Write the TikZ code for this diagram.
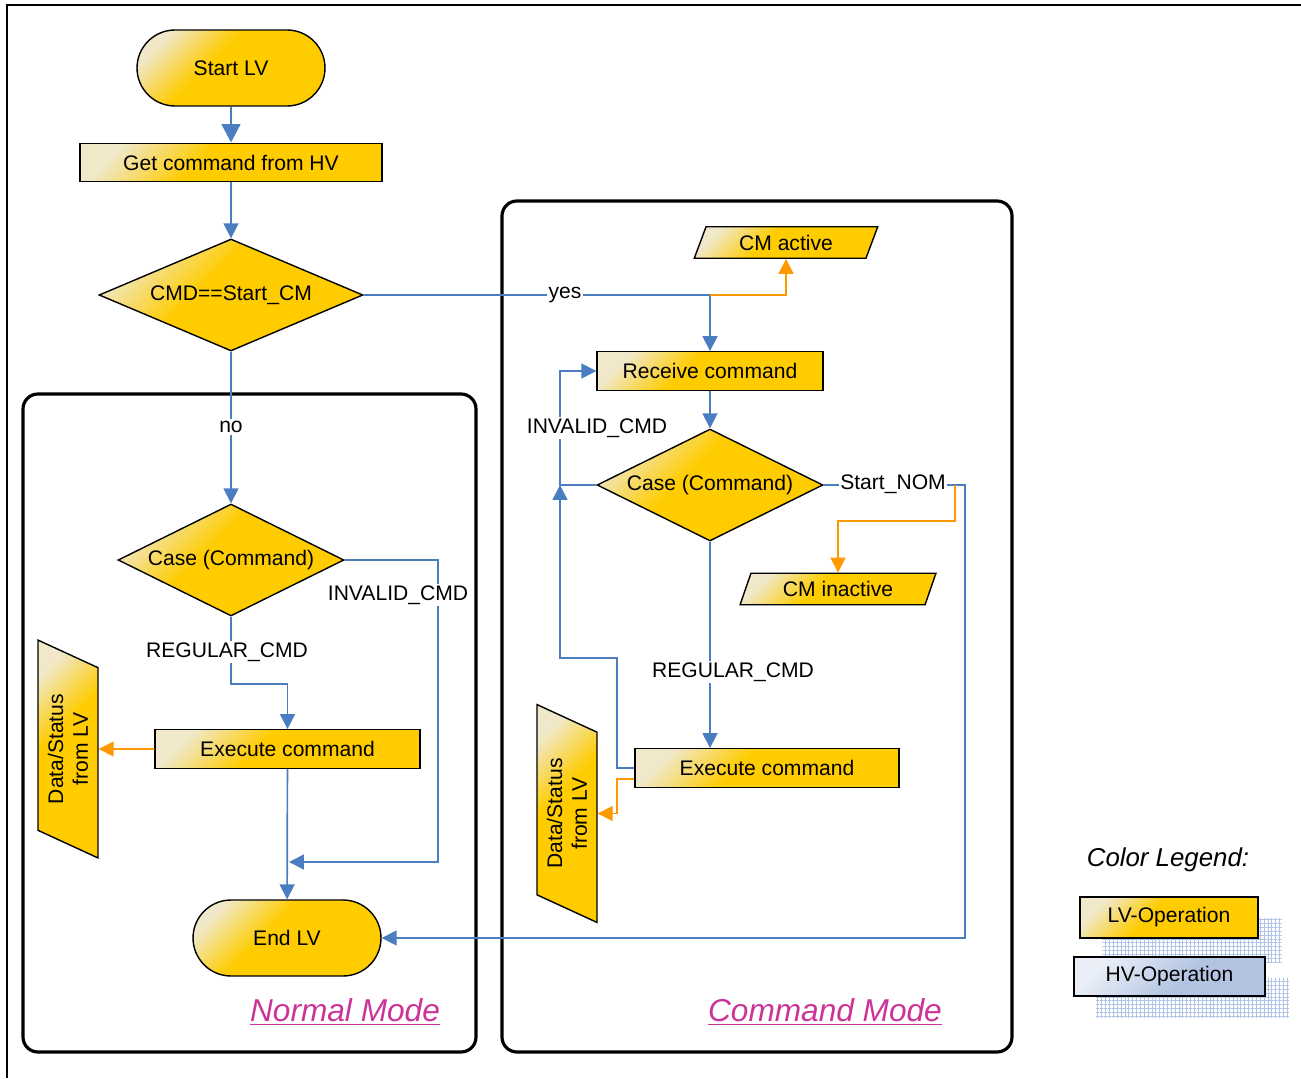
\documentclass[tikz,border=0pt]{standalone}
\usepackage{fontspec}
\setmainfont{Liberation Sans}
\usepackage{tikz}
\usetikzlibrary{arrows.meta}
\usetikzlibrary{positioning}
\usetikzlibrary{shapes.geometric}
\usetikzlibrary{patterns.meta}
\definecolor{gold}{RGB}{255,204,0}
\definecolor{goldlight}{RGB}{240,232,200}
\definecolor{hvlight}{RGB}{234,239,247}
\definecolor{hvdark}{RGB}{178,196,226}
\definecolor{flowblue}{RGB}{74,126,193}
\definecolor{floworange}{RGB}{255,153,0}
\definecolor{modemag}{RGB}{204,51,153}
\definecolor{gridblue}{RGB}{176,196,232}
\pgfdeclareverticalshading{lvshade}{100bp}{color(0bp)=(gold); color(25bp)=(gold); color(57bp)=(gold); color(76bp)=(goldlight); color(100bp)=(goldlight)}
\pgfdeclareverticalshading{hvshade}{100bp}{color(0bp)=(hvdark); color(25bp)=(hvdark); color(45bp)=(hvdark); color(75bp)=(hvlight); color(100bp)=(hvlight)}
\tikzset{
  lvfill/.style={shade,shading=lvshade,shading angle=45},
  hvfill/.style={shade,shading=hvshade,shading angle=45},
  terminal/.style={draw,line width=0.8pt,lvfill,rectangle,rounded corners=0.76cm,minimum width=3.76cm,minimum height=1.52cm},
  opbox/.style={draw,line width=0.8pt,lvfill,rectangle,minimum height=0.77cm},
  casebox/.style={draw,line width=0.8pt,lvfill,diamond,aspect=2,minimum width=4.52cm,minimum height=2.24cm,inner sep=0pt},
  iobox/.style={draw,line width=0.8pt,lvfill,trapezium,trapezium left angle=66,trapezium right angle=114,trapezium stretches=true,minimum height=0.63cm,inner sep=0pt},
  datbox/.style={iobox,rotate=90,align=center,minimum width=4.36cm,minimum height=1.2cm,trapezium left angle=65,trapezium right angle=115},
  flow/.style={draw=flowblue,line width=0.95pt,-{Triangle[length=8.5pt,width=8.5pt]}},
  oflow/.style={draw=floworange,line width=0.95pt,-{Triangle[length=8.5pt,width=8.5pt]}},
  flowlbl/.style={fill=white,inner sep=1pt},
  modebox/.style={draw,line width=1.8pt,rounded corners=0.3cm},
  modetitle/.style={text=modemag,font=\fontsize{18}{21}\selectfont\itshape},
  legbox/.style={draw,line width=1.1pt,rectangle,inner sep=0pt},
  legshadow/.style={pattern={Hatch[angle=0,distance=2.2pt,line width=0.35pt]},pattern color=gridblue}
}
\begin{document}
\begin{tikzpicture}[x=0.02cm,y=-0.02cm,every node/.style={font=\fontsize{12}{14}\selectfont}]
  \useasboundingbox (0,0) rectangle (1301,1078);
  \draw[line width=1.2pt] (7,1078) -- (7,5) -- (1301,5);

  \draw[modebox] (23,394) rectangle (476,1052);
  \draw[modebox] (502,201) rectangle (1012,1052);

  \node[terminal] (start) at (231,68) {Start LV};
  \node[opbox,minimum width=6.04cm] (getcmd) at (231,162.5) {Get command from HV};
  \node[casebox,aspect=2.36,minimum width=5.28cm] (cmdq) at (231,295) {CMD==Start\_CM};

  \node[casebox] (caseN) at (231,560) {Case (Command)};
  \node[opbox,minimum width=5.3cm] (execN) at (287.5,749) {Execute command};
  \node[datbox] (dsN) at (68,749) {Data/Status\\from LV};
  \node[terminal] (endN) at (287,938) {End LV};

  \node[iobox,minimum width=3.68cm] (cmact) at (786,242.5) {CM active};
  \node[opbox,minimum width=4.52cm] (recv) at (710,371) {Receive command};
  \node[casebox] (caseC) at (710,485) {Case (Command)};
  \node[iobox,minimum width=3.94cm] (cminact) at (838,589) {CM inactive};
  \node[opbox,minimum width=5.28cm] (execC) at (767,768) {Execute command};
  \node[datbox] (dsC) at (567,813.5) {Data/Status\\from LV};

  \coordinate (jy) at (710,295);
  \coordinate (jnom) at (955,485);
  \coordinate (jinv) at (560,485);
  \coordinate (jend) at (289,862);

  \draw[flow,line width=1.7pt,-{Triangle[length=10.5pt,width=10.5pt]}] (start) -- (getcmd);
  \draw[flow] (getcmd) -- (cmdq);
  \draw[flow] (cmdq) -- (caseN);
  \draw[flow] (caseN.south) -- ++(0,67) -| (execN.north);
  \draw[flow] (caseN.east) -- (438,560) |- (jend);
  \draw[flow] (execN) -- (endN);
  \draw[oflow] (execN) -- (dsN);

  \draw[flow] (cmdq.east) -| (recv.north);
  \draw[oflow] (jy) -| (cmact.south);
  \draw[flow] (recv) -- (caseC);
  \draw[flow] (caseC.west) -- (jinv) |- (recv.west);
  \draw[flow] (caseC.south) -- (caseC.south |- execC.north);
  \draw[flow] (caseC.east) -- (965,485) |- (endN.east);
  \draw[oflow] (jnom) -- ++(0,36) -| (cminact.north);
  \draw[flow] (execC.west) -- ++(-17,0) -- ++(0,-110) -| (jinv);
  \draw[oflow] ([yshift=-0.22cm]execC.west) -- ++(-17,0) |- (dsC);

  \node[flowlbl] (lno) at (231,427) {no};
  \node[flowlbl] (lyes) at (565,295) {yes};
  \node[flowlbl] (linvN) at (398,595) {INVALID\_CMD};
  \node[flowlbl] (lregN) at (227,652) {REGULAR\_CMD};
  \node[flowlbl] (linvC) at (597,428) {INVALID\_CMD};
  \node[flowlbl] (lnom) at (893,484) {Start\_NOM};
  \node[flowlbl] (lregC) at (733,672) {REGULAR\_CMD};

  \node[modetitle] (tnormal) at (345,1012) {\underline{Normal Mode}};
  \node[modetitle] (tcommand) at (825,1012) {\underline{Command Mode}};

  \node[font=\fontsize{14.7}{17}\selectfont\itshape] (legend) at (1168,860) {Color Legend:};
  \fill[legshadow] (1102,918) rectangle (1282,962);
  \fill[legshadow] (1096,978) rectangle (1289,1018);
  \node[legbox,lvfill,minimum width=3.56cm,minimum height=0.82cm] (leglv) at (1169,917.5) {LV-Operation};
  \node[legbox,hvfill,minimum width=3.82cm,minimum height=0.78cm] (leghv) at (1169.5,976.5) {HV-Operation};
\end{tikzpicture}
\end{document}
